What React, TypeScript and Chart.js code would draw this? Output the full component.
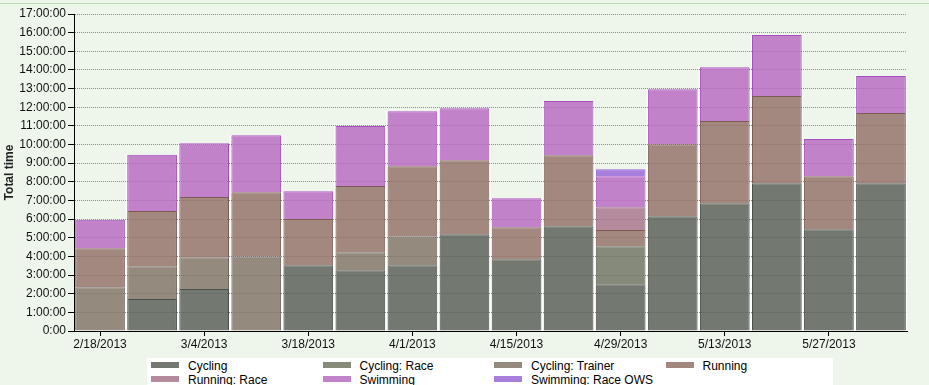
import React, { useEffect, useRef } from "react";
import { Chart, registerables } from "chart.js";

Chart.register(...registerables);

const categories = [
  "2/18/2013", "2/25/2013", "3/4/2013", "3/11/2013", "3/18/2013", "3/25/2013",
  "4/1/2013", "4/8/2013", "4/15/2013", "4/22/2013", "4/29/2013", "5/6/2013",
  "5/13/2013", "5/20/2013", "5/27/2013", "6/3/2013",
];

// hours per week
const cycling = [null, 1.72, 2.25, null, 3.53, 3.26, 3.53, 5.19, 3.85, 5.62, 2.51, 6.16, 6.85, 7.93, 5.46, 7.93];
const cyclingRace = [null, null, null, null, null, null, null, null, null, null, 2.04, null, null, null, null, null];
const cyclingTrainer = [2.35, 1.75, 1.71, 4.01, null, 0.96, 1.55, null, null, null, null, null, null, null, null, null];
const running = [2.09, 2.96, 3.22, 3.43, 2.47, 3.55, 3.76, 3.97, 1.72, 3.81, 0.86, 3.86, 4.41, 4.67, 2.84, 3.76];
const runningRace = [null, null, null, null, null, null, null, null, null, null, 1.23, null, null, null, null, null];
const swimming = [1.52, 3.02, 2.89, 3.06, 1.5, 3.22, 2.95, 2.79, 1.55, 2.9, 1.66, 2.95, 2.89, 3.27, 1.99, 1.98];
const swimmingOWS = [null, null, null, null, null, null, null, null, null, null, 0.38, null, null, null, null, null];

const seriesLabels = ["Cycling", "Cycling: Race", "Cycling: Trainer", "Running", "Running: Race", "Swimming", "Swimming: Race OWS"];
const seriesData = [cycling, cyclingRace, cyclingTrainer, running, runningRace, swimming, swimmingOWS];
// colours as they appear on screen (and in the legend)
const seriesColors = [
  [115, 120, 112],
  [134, 138, 122],
  [148, 139, 126],
  [163, 136, 128],
  [180, 138, 156],
  [194, 130, 202],
  [168, 126, 220],
];
const seriesBorders = ["#4b5049", "#5e6352", "#6f665b", "#7d5a55", "#8f5f78", "#a64fbd", "#8a5ad6"];

const yMax = 17;
const ALPHA = 0.85;

function fillFor(c: number[]) {
  const f = c.map((v) => Math.max(0, Math.min(255, Math.round((v - (1 - ALPHA) * 255) / ALPHA))));
  return `rgba(${f[0]},${f[1]},${f[2]},${ALPHA})`;
}

function fmtHours(v: number) {
  if (v === 0) return "0:00";
  return `${v}:00:00`;
}

const FONT = "'Liberation Sans', Arial, sans-serif";

const backingPlugin = {
  id: "barBacking",
  beforeDraw(chart: any) {
    const ctx = chart.ctx;
    const y = chart.scales.y;
    ctx.save();
    ctx.fillStyle = "#ffffff";
    for (let i = 0; i < categories.length; i++) {
      let total = 0;
      let el: any = null;
      chart.data.datasets.forEach((ds: any, d: number) => {
        const v = ds.data[i];
        if (v != null) {
          total += v;
          const e = chart.getDatasetMeta(d).data[i];
          if (e && isFinite(e.width) && !el) el = e;
        }
      });
      if (!total || !el) continue;
      const top = y.getPixelForValue(total);
      const bottom = y.getPixelForValue(0);
      ctx.fillRect(el.x - el.width / 2 - 1.2, top, el.width + 2.4, bottom - top);
    }
    ctx.restore();
  },
};

export default function App() {
  const ref = useRef<HTMLCanvasElement | null>(null);

  useEffect(() => {
    document.body.style.margin = "0";
    if (!ref.current) return;
    const chart = new Chart(ref.current, {
      type: "bar",
      data: {
        labels: categories,
        datasets: seriesLabels.map((label, i) => ({
          label,
          data: seriesData[i] as any,
          backgroundColor: fillFor(seriesColors[i]),
          borderColor: seriesBorders[i],
          borderWidth: 1,
          categoryPercentage: 1,
          barPercentage: 0.955,
        })),
      },
      plugins: [backingPlugin],
      options: {
        animation: false,
        responsive: false,
        devicePixelRatio: 1,
        layout: { padding: { top: 14, right: 22, left: 0, bottom: 0 } },
        plugins: {
          legend: { display: false },
          tooltip: { enabled: false },
        },
        scales: {
          x: {
            stacked: true,
            offset: true,
            grid: {
              offset: false,
              drawOnChartArea: false,
              tickLength: 5,
              color: (c: any) => (c.index % 2 === 0 ? "#000000" : "rgba(0,0,0,0)"),
              tickColor: (c: any) => (c.index % 2 === 0 ? "#000000" : "rgba(0,0,0,0)"),
            },
            border: { color: "#000000", width: 1 },
            ticks: {
              autoSkip: false,
              maxRotation: 0,
              padding: 1,
              color: "#111111",
              font: { family: FONT, size: 12 },
              callback: (_v: any, i: number) => (i % 2 === 0 ? categories[i] : ""),
            },
            afterFit: (s: any) => {
              s.height = 54;
            },
          },
          y: {
            stacked: true,
            min: 0,
            max: yMax,
            ticks: {
              stepSize: 1,
              padding: 2,
              color: "#111111",
              font: { family: FONT, size: 12 },
              callback: (v: any) => fmtHours(Number(v)),
            },
            grid: {
              color: "#8c8c8c",
              lineWidth: 1,
              tickLength: 6,
              tickColor: "#000000",
              tickBorderDash: [],
            } as any,
            border: { color: "#000000", width: 1, dash: [1, 1] },
            title: {
              display: true,
              text: "Total time",
              color: "#222222",
              font: { family: FONT, size: 12, weight: "bold" },
              padding: { top: 2, bottom: 0 },
            },
            afterFit: (s: any) => {
              s.width = 74;
            },
          },
        },
      },
    });
    return () => chart.destroy();
  }, []);

  return (
    <div
      style={{
        position: "relative",
        width: 929,
        height: 385,
        background: "#EEF6EC",
        overflow: "hidden",
      }}
    >
      <div style={{ position: "absolute", left: 0, top: 3, width: 929, height: 1, background: "#b6dab1" }} />
      <canvas ref={ref} width={929} height={385} style={{ position: "absolute", left: 0, top: 0, width: 929, height: 385 }} />
      <div
        style={{
          position: "absolute",
          left: 147,
          top: 358,
          width: 686,
          height: 30,
          background: "#ffffff",
          paddingTop: 1,
          boxSizing: "border-box",
          display: "grid",
          gridTemplateColumns: "repeat(4, 171.5px)",
          gridAutoRows: "14px",
          fontFamily: FONT,
          fontSize: 12,
          lineHeight: "14px",
          color: "#000",
        }}
      >
        {seriesLabels.map((label, i) => (
          <div key={label} style={{ position: "relative", height: 14, whiteSpace: "nowrap" }}>
            <span
              style={{
                position: "absolute",
                left: 4,
                top: 3,
                width: 28,
                height: 6,
                background: `rgb(${seriesColors[i].join(",")})`,
              }}
            />
            <span style={{ position: "absolute", left: 41, top: 0 }}>{label}</span>
          </div>
        ))}
      </div>
    </div>
  );
}
